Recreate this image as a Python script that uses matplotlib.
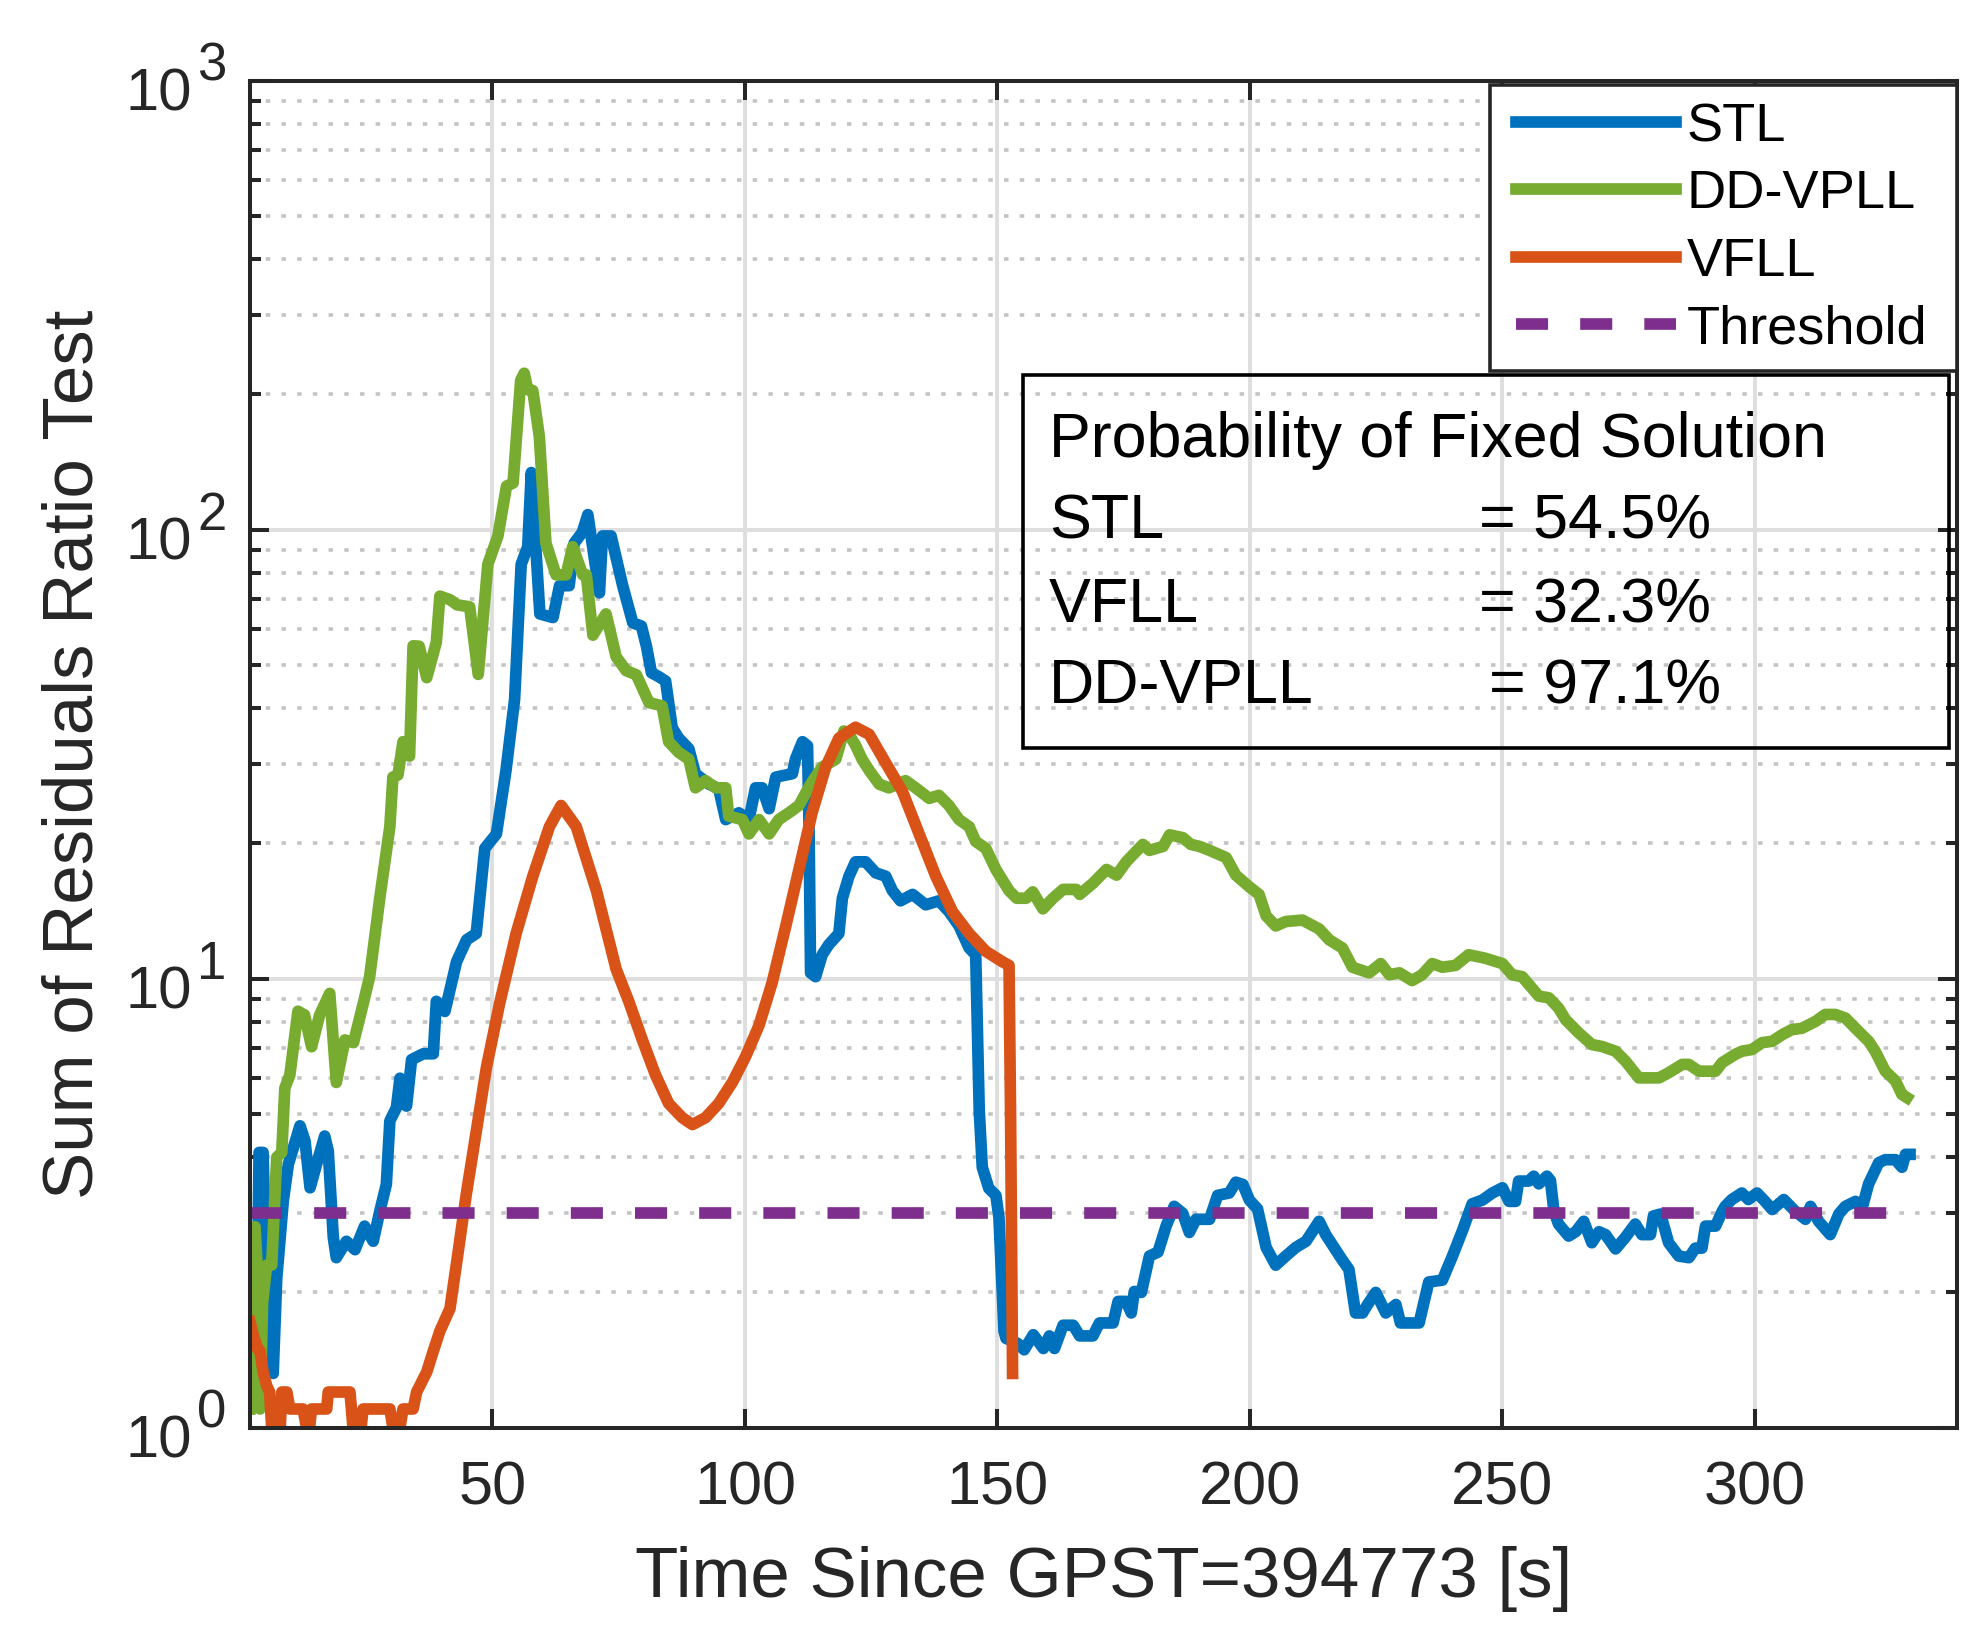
import matplotlib
matplotlib.use('Agg')
import matplotlib.pyplot as plt
import numpy as np
from matplotlib.patches import Rectangle
from matplotlib.lines import Line2D
from matplotlib.legend_handler import HandlerLine2D
from matplotlib.ticker import LogLocator, NullFormatter

plt.rcParams['font.family'] = ['Liberation Sans', 'DejaVu Sans']

# STL
stl_t = [2, 3.3, 3.8, 4.6, 5.0, 5.6, 6.6, 7.3, 8.6, 9.6, 10.6, 11.9, 12.9, 13.9, 15.2, 16.8, 17.5,
         18.5, 19.1, 21.1, 22.8, 24.7, 26.4, 27.7, 29.0, 29.7, 31.0, 31.7, 33.0, 34.0, 36.3, 38.3,
         38.9, 40.6, 42.9, 44.9, 46.8, 48.5, 50.8, 52.7, 54.4, 55.7, 57.0, 57.7, 59.4, 62.0, 63.3,
         65.2, 66.2, 67.8, 68.9, 71.2, 71.8, 73.5, 75.8, 77.8, 79.5, 80.5, 81.5, 83.0, 84.3, 85.6,
         86.9, 88.9, 90.2, 92.9, 94.8, 96.2, 98.8, 100.8, 102.1, 103.4, 104.8, 106.1, 109.4, 110.0,
         111.4, 112.4, 112.7, 113.0, 114.0, 115.3, 116.6, 118.6, 119.3, 120.6, 121.9, 123.9, 125.9,
         127.9, 129.2, 130.8, 133.2, 135.8, 138.4, 140.4, 142.4, 144.4, 145.7, 146.4, 147.0, 148.3,
         149.7, 150.3, 151.3, 151.7, 154.0, 155.3, 157.1, 159.1, 160.3, 161.3, 163.0, 165.0, 166.3,
         168.9, 170.2, 172.9, 173.9, 175.5, 176.5, 177.1, 178.5, 180.1, 181.8, 183.4, 185.0, 186.7,
         188.0, 189.3, 192.0, 193.6, 195.9, 197.2, 198.6, 199.9, 201.5, 203.2, 205.1, 207.1, 209.1,
         211.1, 213.7, 215.0, 218.3, 219.6, 220.9, 222.3, 223.3, 224.9, 226.9, 228.9, 229.8, 233.5,
         235.4, 238.1, 240.1, 242.1, 244.0, 246.0, 248.0, 250.0, 251.3, 252.6, 253.2, 255.2, 256.2,
         257.2, 258.8, 259.5, 260.2, 261.1, 263.1, 264.5, 266.1, 267.7, 269.1, 270.4, 272.4, 274.3,
         276.3, 277.6, 279.3, 279.9, 281.3, 282.9, 284.9, 286.9, 288.2, 289.5, 290.2, 292.2, 293.5,
         294.1, 295.4, 297.4, 298.7, 300.4, 302.0, 303.4, 305.7, 308.0, 310.0, 311.0, 312.6, 314.9,
         316.6, 317.9, 319.9, 321.2, 322.5, 324.5, 325.8, 327.8, 329.1, 329.8, 330.7]
stl_v = [1.3, 1.35, 4.1, 4.1, 2.65, 2.6, 1.32, 2.15, 3.2, 3.86, 4.2, 4.7, 4.35, 3.42, 3.86, 4.46, 4.13,
         2.65, 2.39, 2.6, 2.49, 2.81, 2.6, 3.03, 3.48, 4.82, 5.16, 6.0, 5.2, 6.6, 6.8, 6.8,
         8.9, 8.45, 10.9, 12.2, 12.6, 19.5, 21.0, 29.1, 41.9, 83.7, 91.6, 134.0, 64.9, 63.7, 75.0,
         75.0, 93.3, 98.6, 108.0, 72.3, 96.8, 96.8, 75.0, 62.0, 61.0, 55.0, 48.0, 47.0, 46.0, 36.2,
         34.3, 32.5, 28.6, 27.1, 26.5, 22.6, 23.4, 22.6, 26.6, 26.6, 23.9, 28.1, 28.6, 30.8,
         33.7, 33.0, 21.8, 10.3, 10.1, 11.3, 11.9, 12.6, 15.1, 16.9, 18.2, 18.2, 17.2,
         16.9, 15.7, 14.9, 15.4, 14.6, 14.9, 14.1, 13.1, 11.7, 11.3, 5.08, 3.8, 3.41,
         3.29, 2.94, 1.64, 1.58, 1.54, 1.49, 1.61, 1.5, 1.6, 1.5, 1.69, 1.69, 1.6,
         1.6, 1.71, 1.71, 1.91, 1.91, 1.8, 2.01, 2.0, 2.41, 2.46, 2.81, 3.11, 3.0,
         2.72, 2.91, 2.91, 3.29, 3.33, 3.52, 3.48, 3.21, 3.07, 2.52, 2.3, 2.41, 2.52,
         2.6, 2.88, 2.69, 2.36, 2.25, 1.8, 1.8, 1.88, 2.0, 1.8, 1.88, 1.71, 1.71,
         2.11, 2.13, 2.41, 2.75, 3.15, 3.21, 3.33, 3.42, 3.19, 3.19, 3.54, 3.54, 3.63,
         3.49, 3.63, 3.55, 3.03, 2.84, 2.67, 2.73, 2.88, 2.58, 2.73, 2.69, 2.5, 2.65,
         2.84, 2.69, 2.69, 2.96, 2.99, 2.58, 2.41, 2.39, 2.51, 2.51, 2.81, 2.81, 3.03,
         3.11, 3.22, 3.33, 3.22, 3.33, 3.19, 3.06, 3.22, 3.03, 2.91, 3.11, 2.88, 2.69,
         2.99, 3.11, 3.19, 3.08, 3.49, 3.89, 3.95, 3.95, 3.8, 4.06, 4.06]

# DD-VPLL
dd_t = [2, 2.5, 3, 3.5, 4, 4.5, 5.3, 6.3, 7.3, 8.3, 8.9, 9.9, 11.5, 12.8, 14.2, 15.8, 17.8, 19.1,
        20.8, 22.5, 24.4, 25.7, 27.7, 29.7, 30.3, 31.3, 32.3, 33.6, 34.3, 35.5, 37.0, 38.9, 39.6,
        41.6, 43.0, 45.5, 47.2, 49.1, 51.1, 52.8, 54.1, 55.6, 56.3, 57.0, 58.0, 59.3, 60.6, 62.6,
        64.6, 65.9, 67.9, 68.6, 69.9, 72.5, 74.5, 76.5, 78.5, 81.0, 83.6, 84.9, 86.9, 88.9, 90.2,
        92.2, 94.2, 96.2, 96.8, 99.5, 100.8, 102.8, 104.8, 106.7, 108.7, 110.7, 113.0, 115.3, 118.0,
        119.6, 120.6, 121.9, 123.2, 124.6, 126.6, 128.5, 129.9, 131.8, 133.8, 136.5, 138.4, 140.4,
        142.4, 144.4, 145.7, 147.7, 149.7, 152.3, 153.8, 155.7, 157.0, 159.0, 161.0, 163.0, 165.6,
        166.3, 168.9, 171.6, 173.6, 175.5, 178.8, 180.1, 182.8, 184.1, 186.7, 188.3, 190.0, 192.0,
        195.3, 197.2, 199.9, 201.8, 203.2, 205.1, 207.1, 210.4, 213.7, 215.7, 218.3, 220.3, 223.6,
        225.9, 227.6, 229.6, 232.1, 234.1, 236.1, 238.1, 240.7, 243.3, 246.6, 250.0, 251.9, 253.9,
        257.2, 259.2, 261.1, 262.5, 265.1, 267.7, 269.7, 272.4, 274.4, 277.0, 281.0, 282.9, 285.6,
        286.9, 288.9, 292.2, 293.5, 296.1, 297.4, 299.4, 301.4, 303.4, 305.4, 307.3, 309.3, 312.0,
        313.9, 315.9, 317.9, 319.9, 322.5, 323.8, 325.8, 327.8, 329.1, 330.1]
dd_v = [1.1, 2.0, 2.8, 2.2, 1.1, 1.9, 2.3, 2.3, 4.0, 4.1, 5.7, 6.1, 8.46, 8.3, 7.05, 8.3, 9.27, 5.87,
        7.3, 7.2, 8.77, 10.1, 15.1, 21.8, 28.1, 28.4, 33.7, 31.3, 55.1, 55.0, 46.8, 56.1, 71.1,
        69.8, 68.0, 67.3, 47.6, 83.7, 96.8, 125.0, 127.0, 215.0, 223.0, 205.0, 204.0, 161.0, 93.3, 79.3,
        79.3, 91.6, 79.3, 79.3, 58.2, 64.9, 52.1, 48.5, 47.5, 41.2, 40.5, 33.7, 31.9, 30.8, 26.6,
        27.6, 26.6, 26.6, 23.0, 22.6, 21.0, 22.6, 21.0, 22.6, 23.4, 24.3, 27.1, 29.6, 30.8,
        35.6, 35.0, 33.1, 30.8, 29.1, 27.1, 26.6, 27.0, 27.6, 26.6, 25.2, 25.6, 24.3,
        22.6, 21.8, 20.2, 19.5, 17.5, 15.7, 15.1, 15.1, 15.6, 14.3, 15.1, 15.8, 15.8,
        15.4, 16.3, 17.5, 17.0, 18.2, 19.9, 19.3, 19.7, 20.9, 20.6, 19.9, 19.7, 19.3,
        18.6, 17.0, 16.0, 15.4, 13.8, 13.1, 13.4, 13.5, 12.9, 12.2, 11.7, 10.6, 10.3,
        10.8, 10.2, 10.3, 9.9, 10.2, 10.8, 10.6, 10.7, 11.3, 11.1, 10.8, 10.2, 10.1,
        9.14, 9.06, 8.6, 8.1, 7.57, 7.13, 7.06, 6.89, 6.54, 6.01, 6.01, 6.17, 6.44,
        6.44, 6.22, 6.22, 6.5, 6.78, 6.89, 6.95, 7.2, 7.25, 7.5, 7.7, 7.75, 8.03,
        8.32, 8.32, 8.17, 7.75, 7.25, 6.89, 6.22, 5.92, 5.52, 5.43]

# VFLL
vf_t = [2, 2.7, 3.5, 4.0, 4.6, 5.3, 5.9, 6.3, 8.0, 8.3, 9.3, 9.9, 12.5, 13.2, 13.8, 14.2, 17.2, 17.5,
        21.8, 22.4, 24.0, 24.4, 29.7, 30.3, 31.7, 32.3, 34.3, 35.0, 37.0, 38.3, 39.6, 41.6, 43.2,
        44.8, 46.8, 48.8, 51.4, 54.7, 58.0, 61.3, 63.6, 66.6, 70.6, 74.5, 77.0, 79.7, 82.3, 84.9,
        87.6, 89.6, 92.2, 94.8, 97.5, 100.1, 102.8, 105.4, 108.1, 110.7, 113.3, 116.0, 118.6, 121.9,
        124.6, 127.9, 131.2, 134.5, 137.8, 141.1, 144.4, 147.7, 151.0, 152.3, 152.6, 153.0]
vf_v = [1.72, 1.6, 1.5, 1.48, 1.33, 1.24, 1.2, 1.0, 1.0, 1.2, 1.2, 1.1, 1.1, 1.0, 1.0, 1.1, 1.1, 1.2,
        1.2, 1.0, 1.0, 1.1, 1.1, 1.0, 1.0, 1.1, 1.1, 1.2, 1.33, 1.48, 1.64, 1.84, 2.45,
        3.29, 4.56, 6.32, 8.77, 12.6, 16.9, 21.8, 24.3, 21.8, 15.7, 10.5, 8.9, 7.3, 6.1, 5.27,
        4.9, 4.73, 4.9, 5.27, 5.87, 6.69, 7.87, 9.8, 13.1, 17.5, 23.4, 29.6, 34.3, 36.3,
        35.0, 30.2, 26.1, 21.0, 16.9, 14.1, 12.6, 11.5, 10.9, 10.7, 5.0, 1.32]

thr_t = [2, 330]
thr_v = [3, 3]

x_ticks = [50, 100, 150, 200, 250, 300]
y_ticks = [1, 10, 100, 1000]

prob_names = ['STL', 'VFLL', 'DD-VPLL']
prob_values = ['= 54.5%', '= 32.3%', '= 97.1%']

fig = plt.figure(figsize=(9.935, 8.195), dpi=200)
ax = fig.add_axes([0.1258, 0.129, 0.8591, 0.8218])

lw = 4.2
ax.plot(stl_t, stl_v, color='#0072BD', lw=lw, label='STL')
ax.plot(dd_t, dd_v, color='#77AC30', lw=lw, label='DD-VPLL')
ax.plot(vf_t, vf_v, color='#D95319', lw=lw, label='VFLL')
ax.plot(thr_t, thr_v, color='#7E2F8E', lw=lw, ls=(0, (2.75, 2.75)), label='Threshold')

ax.set_yscale('log')
ax.set_xlim(2, 340)
ax.set_ylim(1, 1000)
ax.set_xticks(x_ticks)
ax.set_yticks(y_ticks)
ax.yaxis.set_minor_locator(LogLocator(base=10, subs=range(2, 10)))
ax.yaxis.set_minor_formatter(NullFormatter())

dark = '#262626'
for s in ax.spines.values():
    s.set_linewidth(1.45)
    s.set_color(dark)
ax.tick_params(which='both', direction='in', top=True, right=True, color=dark, width=1.45)
ax.tick_params(which='major', length=6.8, labelsize=22, labelcolor=dark)
ax.tick_params(which='minor', length=4)
ax.tick_params(axis='x', pad=12)
ax.tick_params(axis='y', labelleft=False)

# y tick labels as "10" with a large exponent, like the original
for val in y_ticks:
    ax.annotate('10', xy=(0, val), xycoords=('axes fraction', 'data'), xytext=(-20.7, -10.6),
                textcoords='offset points', ha='right', va='baseline', fontsize=21.5,
                color=dark, annotation_clip=False)
    ax.annotate(str(int(round(np.log10(val)))), xy=(0, val), xycoords=('axes fraction', 'data'),
                xytext=(-19.1, 0), textcoords='offset points', ha='left', va='baseline',
                fontsize=19, color=dark, annotation_clip=False)

ax.grid(True, which='major', color='#dedede', lw=1.4, ls='-')
ax.yaxis.grid(True, which='minor', color='#c4c4c4', lw=1.3, ls=(0, (1.25, 3.1)))
ax.set_axisbelow(True)

ax.set_xlabel('Time Since GPST=394773 [s]', fontsize=25.5, color=dark, labelpad=10)
ax.set_ylabel('Sum of Residuals Ratio Test', fontsize=25.5, color=dark)
ax.yaxis.set_label_coords(-0.0835, 0.5)

leg = ax.legend(loc='upper right', bbox_to_anchor=(0.7264, 0, 0.2736, 0.997), mode='expand',
                borderaxespad=0, fontsize=19.5, fancybox=False, edgecolor=dark, framealpha=1,
                handlelength=3.11, handletextpad=0.2, borderpad=0.32, labelspacing=0.32,
                handler_map={Line2D: HandlerLine2D(xpad=0.16)})
leg.get_frame().set_linewidth(1.3)

# text box with the fixed-solution probabilities
box = Rectangle((0.4528, 0.5045), 0.5425, 0.2769, transform=ax.transAxes,
                facecolor='none', edgecolor='black', lw=1.3, zorder=5)
ax.add_patch(box)
ax.text(0.468, 0.7206, 'Probability of Fixed Solution', transform=ax.transAxes,
        fontsize=22.6, va='baseline', ha='left', zorder=6)
row_y = [0.6604, 0.5980, 0.5379]
val_x = [0.720, 0.720, 0.7258]
for name, val, yy, xx in zip(prob_names, prob_values, row_y, val_x):
    ax.text(0.468, yy, name, transform=ax.transAxes, fontsize=22.6, va='baseline', ha='left', zorder=6)
    ax.text(xx, yy, val, transform=ax.transAxes, fontsize=22.6, va='baseline', ha='left', zorder=6)

fig.savefig('out.png', dpi=200)
